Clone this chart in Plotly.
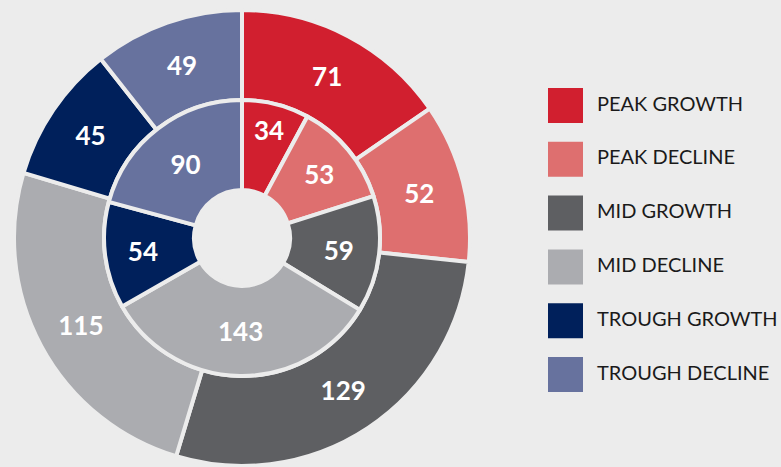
import plotly.graph_objects as go

categories = ["PEAK GROWTH", "PEAK DECLINE", "MID GROWTH", "MID DECLINE",
              "TROUGH GROWTH", "TROUGH DECLINE"]
outer_values = [71, 52, 129, 115, 45, 49]
inner_values = [34, 53, 59, 143, 54, 90]
colors = ["#d11f2f", "#de6f6f", "#5e5f62", "#abacb0", "#00205b", "#67729e"]

BG = "#ececec"
W, H = 781, 467
cx, cy = 242, 229          # pie centre, px from left / bottom
r_outer, r_mid, r_hole = 228, 138, 48


def dom(r):
    return {"x": [(cx - r) / W, (cx + r) / W], "y": [(cy - r) / H, (cy + r) / H]}


num_font = {"family": "Lato", "size": 26, "color": "white", "weight": "bold"}
pie_common = dict(
    sort=False,
    direction="clockwise",
    rotation=0,
    textinfo="value",
    textposition="inside",
    insidetextorientation="horizontal",
    textfont=num_font,
    hoverinfo="label+value",
    showlegend=False,
)

fig = go.Figure()
fig.add_trace(go.Pie(
    labels=categories, values=outer_values, hole=r_mid / r_outer,
    domain=dom(r_outer),
    marker={"colors": colors, "line": {"color": BG, "width": 4}},
    **pie_common,
))
fig.add_trace(go.Pie(
    labels=categories, values=inner_values, hole=r_hole / r_mid,
    domain=dom(r_mid),
    marker={"colors": colors, "line": {"color": BG, "width": 4}},
    **pie_common,
))

# legend drawn as squares + labels
rows = list(range(len(categories)))
fig.add_trace(go.Scatter(
    x=[0] * len(rows), y=rows, mode="markers",
    marker={"symbol": "square", "size": 35, "color": colors, "line": {"width": 0}},
    xaxis="x2", yaxis="y2", hoverinfo="skip", showlegend=False,
))
fig.add_trace(go.Scatter(
    x=[1] * len(rows), y=rows, mode="text", text=categories,
    textposition="middle right",
    textfont={"family": "Lato", "size": 20, "color": "#1a1a1a"},
    xaxis="x2", yaxis="y2", hoverinfo="skip", showlegend=False,
))

# 1 legend unit = 31.5 px, square centre at 565.5 px
fig.update_layout(
    width=W, height=H,
    margin={"l": 0, "r": 0, "t": 0, "b": 0},
    paper_bgcolor=BG, plot_bgcolor=BG,
    uniformtext={"minsize": 26, "mode": "show"},
    xaxis2={"domain": [531 / W, 1], "range": [-34.5 / 31.5, 215.5 / 31.5],
            "visible": False, "fixedrange": True},
    yaxis2={"domain": [0, 1], "range": [6.719, -1.961],
            "visible": False, "fixedrange": True},
)

fig.write_html("out.html", config={"displayModeBar": False},
               post_script="document.body.style.margin='0';")
